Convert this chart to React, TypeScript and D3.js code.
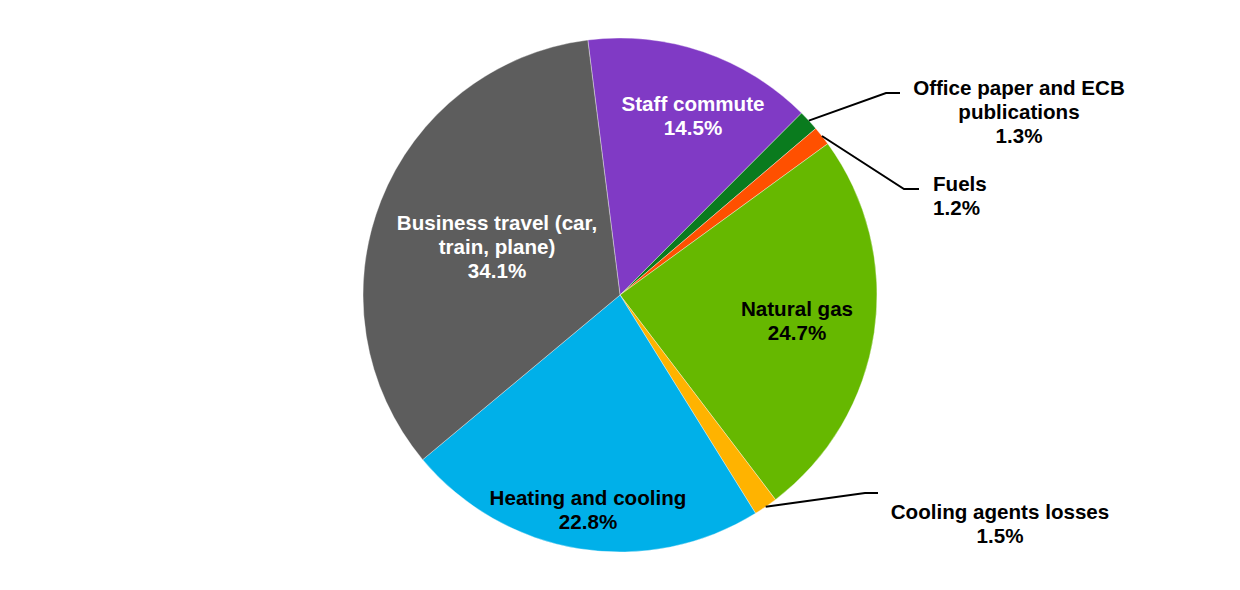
import React from "react";
import * as d3 from "d3";

const categories = [
  "Staff commute",
  "Office paper and ECB publications",
  "Fuels",
  "Natural gas",
  "Cooling agents losses",
  "Heating and cooling",
  "Business travel (car, train, plane)",
];
const values = [14.5, 1.3, 1.2, 24.7, 1.5, 22.8, 34.1];
const colors = ["#803AC5", "#0A7B1E", "#FF5000", "#66B800", "#FFB300", "#00B0E9", "#5D5D5D"];

// layout of labels (not data)
type Lay = {
  lines: string[];
  x: number;
  y: number;
  anchor: string;
  fill: string;
  elbow?: [number, number];
  end?: [number, number];
};
const layout: Lay[] = [
  { lines: ["Staff commute", "14.5%"], x: 693, y: 103, anchor: "middle", fill: "#fff" },
  { lines: ["Office paper and ECB", "publications", "1.3%"], x: 1019, y: 87, anchor: "middle", fill: "#000", elbow: [886, 93], end: [900, 93] },
  { lines: ["Fuels", "1.2%"], x: 933, y: 183, anchor: "start", fill: "#000", elbow: [904, 189], end: [919, 189] },
  { lines: ["Natural gas", "24.7%"], x: 797, y: 308, anchor: "middle", fill: "#000" },
  { lines: ["Cooling agents losses", "1.5%"], x: 1000, y: 511, anchor: "middle", fill: "#000", elbow: [865, 493], end: [878, 493] },
  { lines: ["Heating and cooling", "22.8%"], x: 588, y: 497, anchor: "middle", fill: "#000" },
  { lines: ["Business travel (car,", "train, plane)", "34.1%"], x: 497, y: 222, anchor: "middle", fill: "#fff" },
];

export default function App() {
  const W = 1240, H = 590;
  const cx = 620, cy = 295, r = 257;
  const startAngle = (-7.2 * Math.PI) / 180;
  const pie = d3
    .pie<number>()
    .sort(null)
    .value((d) => d)
    .startAngle(startAngle)
    .endAngle(startAngle + 2 * Math.PI);
  const arcs = pie(values);
  const arc = d3.arc<d3.PieArcDatum<number>>().innerRadius(0).outerRadius(r);
  const lh = 24;
  return (
    <svg width={W} height={H} style={{ position: "absolute", left: 0, top: 0, background: "#fff" }}
      fontFamily="'Liberation Sans', Arial, sans-serif" fontWeight="bold" fontSize={20.6}>
      <g transform={`translate(${cx},${cy})`}>
        {arcs.map((a, i) => (
          <path key={categories[i]} d={arc(a) || ""} fill={colors[i]} stroke="#ffffff" strokeWidth={0.6} strokeOpacity={0.6} />
        ))}
      </g>
      {arcs.map((a, i) => {
        const L = layout[i];
        if (!L.elbow || !L.end) return null;
        const mid = (a.startAngle + a.endAngle) / 2;
        const sx = cx + r * Math.sin(mid);
        const sy = cy - r * Math.cos(mid);
        const pts = d3.line()([[sx, sy], L.elbow, L.end]);
        return <path key={"l" + i} d={pts || ""} fill="none" stroke="#000" strokeWidth={2} />;
      })}
      {layout.map((L, i) => (
        <text key={"t" + i} textAnchor={L.anchor as any} fill={L.fill}>
          {L.lines.map((s, j) => (
            <tspan key={j} x={L.x} y={L.y + j * lh} dominantBaseline="central">
              {s}
            </tspan>
          ))}
        </text>
      ))}
    </svg>
  );
}
